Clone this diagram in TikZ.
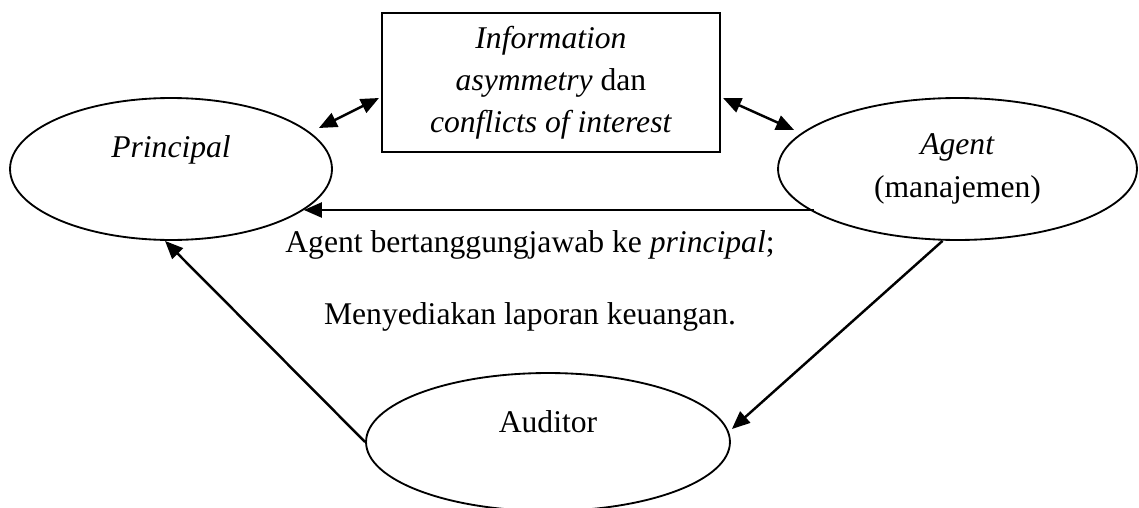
\documentclass[tikz,border=0pt]{standalone}
\usepackage{fontspec}
\setmainfont{Liberation Serif}
\usetikzlibrary{shapes.geometric,arrows.meta}

\begin{document}
\begin{tikzpicture}[x=0.02cm, y=-0.02cm, font=\fontsize{18}{24}\selectfont,
  oval/.style={draw=black, ellipse, line width=1.05pt, inner sep=0pt, minimum height=2.84cm},
  arr/.style={-{Triangle[length=0.36cm,width=0.3cm]}, line width=1.4pt},
  darr/.style={{Triangle[length=0.36cm,width=0.3cm]}-{Triangle[length=0.36cm,width=0.3cm]}, line width=1.4pt}]
\useasboundingbox (0,0) rectangle (1139,507);
\node[oval, minimum width=6.44cm, text height=0.45cm, text depth=0.91cm] (pr) at (171,169) {\textit{Principal}};
\node[draw=black, line width=1.2pt, minimum width=6.76cm, minimum height=2.78cm, align=center] (ia) at (551,82.5) {\textit{Information}\\\textit{asymmetry} dan\\\textit{conflicts of interest}};
\node[oval, minimum width=7.18cm, align=center] (ag) at (957.5,169) {\textit{Agent}\\(manajemen)};
\node[oval, minimum width=7.28cm, minimum height=2.76cm, text height=0.45cm, text depth=0.83cm] (au) at (548,442) {Auditor};
\node (t1) at (530,245) {Agent bertanggungjawab ke \textit{principal};};
\node (t2) at (530,317) {Menyediakan laporan keuangan.};

\draw[darr] ([shift={(-14,-41)}]pr.east) -- ([shift={(-2,15.5)}]ia.west);
\draw[darr] ([shift={(2,15.5)}]ia.east) -- ([shift={(17,-39)}]ag.west);
\draw[arr] ([shift={(37,41)}]ag.west) -- ([shift={(-29,41)}]pr.east);
\draw[arr] (au.west) -- ([shift={(-6,0)}]pr.south);
\draw[arr] ([shift={(-15,0)}]ag.south) -- ([shift={(1,-13)}]au.east);
\end{tikzpicture}
\end{document}
